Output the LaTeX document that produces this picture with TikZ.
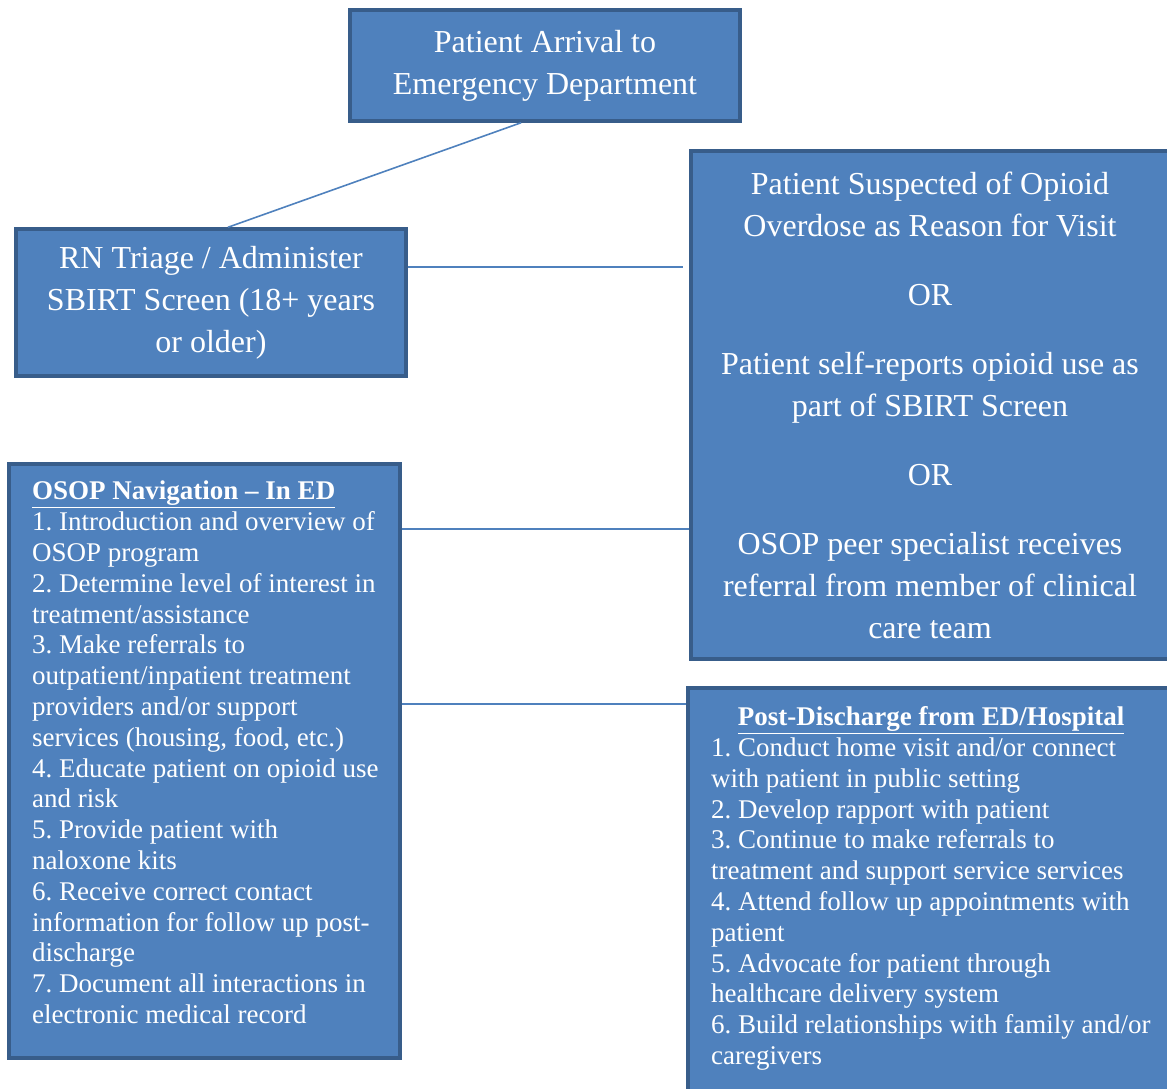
\documentclass[tikz,border=0pt]{standalone}
\usepackage{fontspec}
\setmainfont{Liberation Serif}
\usetikzlibrary{calc}
\definecolor{boxfill}{HTML}{4F81BD}
\definecolor{boxedge}{HTML}{385D8A}
\definecolor{linkcol}{HTML}{4F81BD}
\frenchspacing

\begin{document}
\begin{tikzpicture}[x=1pt,y=-1pt,
  box/.style={draw=boxedge, line width=3.5pt, fill=boxfill, rectangle,
    inner sep=0pt, text=white, align=center},
  bigtext/.style={font=\fontsize{32}{42}\selectfont},
  listtext/.style={font=\fontsize{27}{30.8}\selectfont, text=white,
    align=left, inner sep=0pt, anchor=north west},
  link/.style={draw=linkcol, line width=1.6pt}]

\useasboundingbox (0,0) rectangle (1167,1088);

% boxes
\node[box, bigtext, minimum width=390pt, minimum height=111pt] (arrival) at (545,65.5)
  {Patient Arrival to\\Emergency Department};
\node[box, bigtext, minimum width=390pt, minimum height=147pt] (triage) at (211,302.5)
  {RN Triage / Administer\\SBIRT Screen (18+ years\\or older)};
\node[box, bigtext, minimum width=478pt, minimum height=508pt] (suspect) at (930,405)
  {Patient Suspected of Opioid\\Overdose as Reason for Visit\\[27pt]OR\\[27pt]%
   Patient self-reports opioid use as\\part of SBIRT Screen\\[27pt]OR\\[27pt]%
   OSOP peer specialist receives\\referral from member of clinical\\care team};
\node[box, minimum width=391pt, minimum height=594pt] (nav) at (204.5,761) {};
\node[box, minimum width=481pt, minimum height=410pt] (post) at (928.5,893) {};

% list contents
\node[listtext] (navtext) at (32,481)
  {\underline{\textbf{OSOP Navigation – In ED}}\\
   1. Introduction and overview of\\
   OSOP program\\
   2. Determine level of interest in\\
   treatment/assistance\\
   3. Make referrals to\\
   outpatient/inpatient treatment\\
   providers and/or support\\
   services (housing, food, etc.)\\
   4. Educate patient on opioid use\\
   and risk\\
   5. Provide patient with\\
   naloxone kits\\
   6. Receive correct contact\\
   information for follow up post-\\
   discharge\\
   7. Document all interactions in\\
   electronic medical record};

\node[listtext] (posttext) at (711,706.5)
  {\makebox[440pt][c]{\underline{\textbf{Post-Discharge from ED/Hospital}}}\\
   1. Conduct home visit and/or connect\\
   with patient in public setting\\
   2. Develop rapport with patient\\
   3. Continue to make referrals to\\
   treatment and support service services\\
   4. Attend follow up appointments with\\
   patient\\
   5. Advocate for patient through\\
   healthcare delivery system\\
   6. Build relationships with family and/or\\
   caregivers};

% connectors
\draw[link] ([xshift=-24pt]arrival.south) -- ([xshift=17pt]triage.north);
\draw[link] ([yshift=35.5pt]triage.east) -- ([yshift=35.5pt,xshift=-6pt]triage.east -| suspect.west);
\draw[link] ([yshift=232pt]nav.east) -- ([yshift=232pt]nav.east -| suspect.west);
\draw[link] ([yshift=57pt]nav.east) -- ([yshift=57pt]nav.east -| post.west);
\end{tikzpicture}
\end{document}
